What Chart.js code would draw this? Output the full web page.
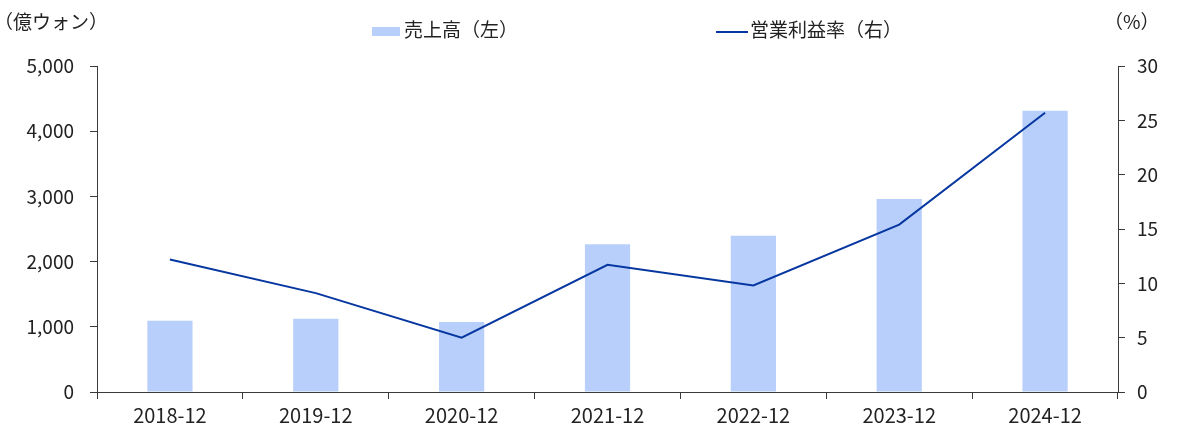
<!DOCTYPE html>
<html>
<head>
<meta charset="utf-8">
<script src="https://cdn.jsdelivr.net/npm/chart.js@4"></script>
<style>
  body { margin: 0; background: #fff; }
  #wrap { width: 1187px; height: 440px; position: relative; }
</style>
</head>
<body>
<div id="wrap"><canvas id="salesChart"></canvas></div>
<script>
// Data
const periods = ['2018-12', '2019-12', '2020-12', '2021-12', '2022-12', '2023-12', '2024-12'];
const sales = [1094, 1125, 1074, 2265, 2397, 2960, 4314];      // 億ウォン
const opMargin = [12.2, 9.1, 5.0, 11.7, 9.8, 15.4, 25.7];      // %
const leftTicks = [0, 1000, 2000, 3000, 4000, 5000];
const rightTicks = [0, 5, 10, 15, 20, 25, 30];

const FONT = '"Noto Sans CJK JP", "Noto Sans", sans-serif';
const BAR_COLOR = '#B8CFFB';
const LINE_COLOR = '#0636A0';
const AXIS_COLOR = '#3a3a3a';

// legend and unit labels drawn by hand, the built-in legend can't space them like this
const headerPlugin = {
    id: 'header',
    afterDraw(chart) {
        const ctx = chart.ctx;
        ctx.save();
        ctx.font = '19px ' + FONT;
        ctx.fillStyle = '#222';
        ctx.textBaseline = 'middle';
        ctx.textAlign = 'left';
        ctx.fillText('（億ウォン）', -6, 22);
        ctx.fillText('（%）', 1104, 22);

        // bar item
        ctx.fillStyle = BAR_COLOR;
        ctx.fillRect(372, 27, 28, 9);
        ctx.fillStyle = '#222';
        ctx.fillText(chart.data.datasets[1].label, 404, 30);

        // line item
        ctx.strokeStyle = LINE_COLOR;
        ctx.lineWidth = 2;
        ctx.beginPath();
        ctx.moveTo(716, 32);
        ctx.lineTo(748, 32);
        ctx.stroke();
        ctx.fillText(chart.data.datasets[0].label, 750, 30);
        ctx.restore();
    }
};

const config = {
    type: 'bar',
    data: {
        labels: periods,
        datasets: [{
            type: 'line',
            label: '営業利益率（右）',
            data: opMargin,
            yAxisID: 'y1',
            borderColor: LINE_COLOR,
            borderWidth: 2,
            pointRadius: 0,
            tension: 0,
            order: 0
        }, {
            label: '売上高（左）',
            data: sales,
            yAxisID: 'y',
            backgroundColor: BAR_COLOR,
            borderWidth: 0,
            categoryPercentage: 1,
            barPercentage: 0.31,
            order: 1
        }]
    },
    options: {
        responsive: true,
        maintainAspectRatio: false,
        animation: false,
        layout: { padding: { top: 66, left: 0, right: 0, bottom: 0 } },
        plugins: {
            legend: { display: false },
            tooltip: { enabled: false }
        },
        scales: {
            x: {
                afterFit(scale) { scale.height = 48; },
                grid: {
                    offset: true,
                    drawOnChartArea: false,
                    tickLength: 7,
                    color: AXIS_COLOR
                },
                border: { color: AXIS_COLOR, width: 1 },
                ticks: {
                    color: '#222',
                    padding: 4,
                    maxRotation: 0,
                    font: { family: FONT, size: 20 }
                }
            },
            y: {
                position: 'left',
                min: 0,
                max: 5000,
                afterFit(scale) { scale.width = 97; },
                afterBuildTicks(scale) { scale.ticks = leftTicks.map(v => ({ value: v })); },
                grid: {
                    drawOnChartArea: false,
                    tickLength: 7,
                    color: AXIS_COLOR
                },
                border: { color: AXIS_COLOR, width: 1 },
                ticks: {
                    color: '#222',
                    padding: 16,
                    font: { family: FONT, size: 19 },
                    callback: v => v.toLocaleString('en-US')
                }
            },
            y1: {
                position: 'right',
                min: 0,
                max: 30,
                afterFit(scale) { scale.width = 69; },
                afterBuildTicks(scale) { scale.ticks = rightTicks.map(v => ({ value: v })); },
                grid: {
                    drawOnChartArea: false,
                    tickLength: 7,
                    color: AXIS_COLOR
                },
                border: { color: AXIS_COLOR, width: 1 },
                ticks: {
                    color: '#222',
                    padding: 12,
                    font: { family: FONT, size: 19 }
                }
            }
        }
    },
    plugins: [headerPlugin]
};

const salesChart = new Chart(document.getElementById('salesChart'), config);
</script>
</body>
</html>
